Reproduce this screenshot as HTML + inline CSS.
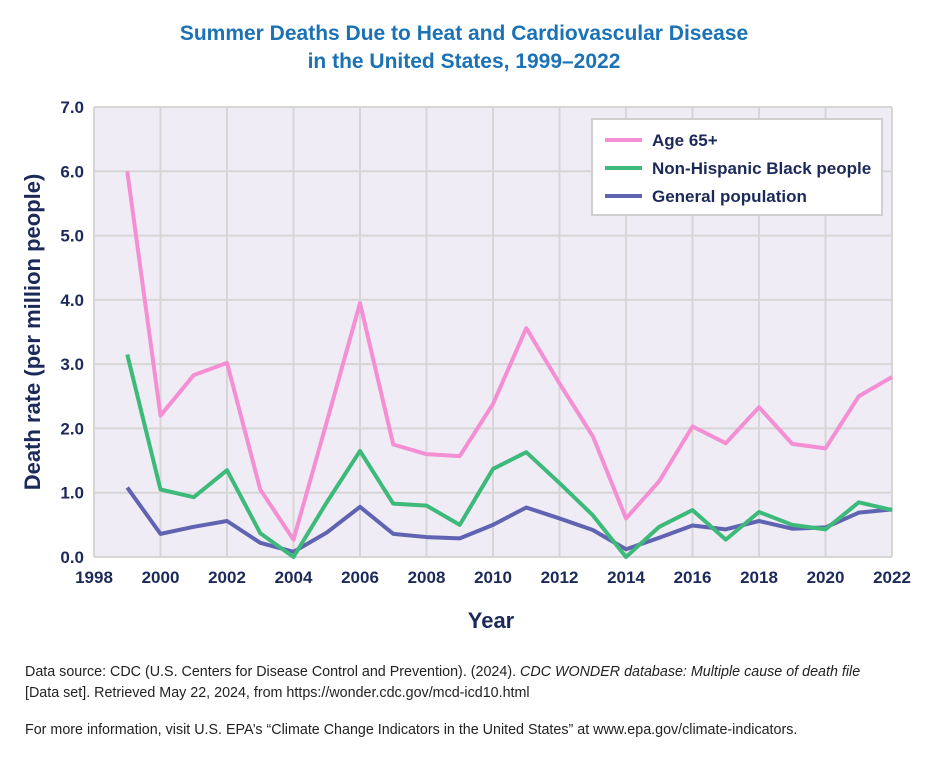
<!DOCTYPE html>
<html><head><meta charset="utf-8"><style>
body{margin:0;background:#fff;width:928px;height:762px;overflow:hidden;font-family:"Liberation Sans",sans-serif}
.t{position:absolute;left:0;width:928px;text-align:center;color:#1b72b5;font-weight:bold;font-size:21px;line-height:28px}
.f{position:absolute;left:25px;font-size:14.3px;color:#222;line-height:21px}
</style></head><body>
<div class="t" style="top:20px">Summer Deaths Due to Heat and Cardiovascular Disease<br>in the United States, 1999–2022</div>
<svg width="928" height="762" style="position:absolute;left:0;top:0" id="s"></svg>
<div class="f" style="top:662px">Data source: CDC (U.S. Centers for Disease Control and Prevention). (2024). <i>CDC WONDER database: Multiple cause of death file</i><br>[Data set]. Retrieved May 22, 2024, from https://wonder.cdc.gov/mcd-icd10.html</div>
<div class="f" style="top:720px">For more information, visit U.S. EPA’s “Climate Change Indicators in the United States” at www.epa.gov/climate-indicators.</div>
<script>
var L=94,R=892,T=107,B=557;
function X(y){return L+(y-1998)*(R-L)/24}
function Y(v){return B-v*(B-T)/7}
var s='<rect x="'+L+'" y="'+T+'" width="'+(R-L)+'" height="'+(B-T)+'" fill="#efecf5"/>';
for(var i=0;i<=7;i++){s+='<line x1="'+L+'" x2="'+R+'" y1="'+Y(i)+'" y2="'+Y(i)+'" stroke="#d6d6d6" stroke-width="2"/>';
s+='<text x="84" y="'+(Y(i)+6)+'" text-anchor="end" font-size="17" font-weight="bold" fill="#1c2a5a">'+i+'.0</text>';}
for(var y=1998;y<=2022;y+=2){s+='<line y1="'+T+'" y2="'+B+'" x1="'+X(y)+'" x2="'+X(y)+'" stroke="#d6d6d6" stroke-width="2"/>';
s+='<text x="'+X(y)+'" y="583" text-anchor="middle" font-size="17" font-weight="bold" fill="#1c2a5a">'+y+'</text>';}
var d=[[ "#f48fd4",[6.0,2.2,2.83,3.02,1.05,0.27,2.1,3.95,1.75,1.6,1.57,2.38,3.56,2.7,1.88,0.6,1.18,2.03,1.77,2.33,1.76,1.69,2.5,2.8]],
["#3dba7a",[3.15,1.05,0.93,1.35,0.37,0.0,0.85,1.65,0.83,0.8,0.5,1.37,1.63,1.15,0.65,0.0,0.47,0.73,0.27,0.7,0.5,0.43,0.85,0.73]],
["#5f63b1",[1.08,0.36,0.47,0.56,0.22,0.08,0.38,0.78,0.36,0.31,0.29,0.5,0.77,0.6,0.42,0.12,0.3,0.49,0.43,0.56,0.44,0.46,0.69,0.74]]];
d=[d[2],d[1],d[0]];
d.forEach(function(a){var p=a[1].map(function(v,i){return X(1999+i)+','+Y(v)}).join(' ');
s+='<polyline points="'+p+'" fill="none" stroke="'+a[0]+'" stroke-width="4" stroke-linejoin="round"/>';});
s+='<rect x="592" y="119" width="290" height="96" fill="#fff" stroke="#cfcfcf" stroke-width="2"/>';
var lg=[["#f48fd4","Age 65+"],["#3dba7a","Non-Hispanic Black people"],["#5f63b1","General population"]];
lg.forEach(function(l,i){var yy=140+i*28;s+='<line x1="605" x2="642" y1="'+yy+'" y2="'+yy+'" stroke="'+l[0]+'" stroke-width="4"/><text x="652" y="'+(yy+6)+'" font-size="17" font-weight="bold" fill="#1c2a5a">'+l[1]+'</text>';});
s+='<text x="491" y="628" text-anchor="middle" font-size="22" font-weight="bold" fill="#1c2a5a">Year</text>';
s+='<text transform="translate(40,332) rotate(-90)" text-anchor="middle" font-size="22" font-weight="bold" fill="#1c2a5a">Death rate (per million people)</text>';
document.getElementById('s').innerHTML=s;
</script>
</body></html>
